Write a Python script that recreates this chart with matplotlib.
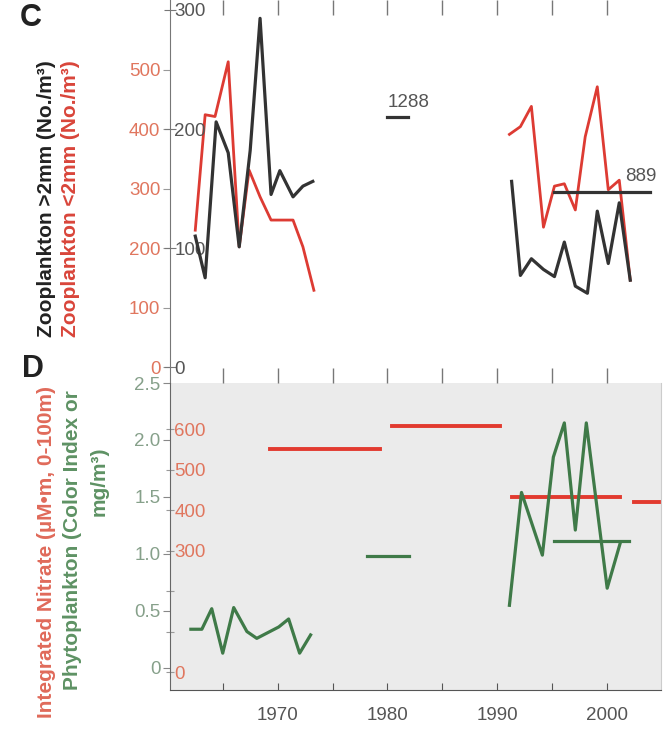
import matplotlib
matplotlib.use("Agg")
import matplotlib.pyplot as plt

plt.rcParams['font.family'] = ['Liberation Sans', 'DejaVu Sans']

### panel C - zooplankton (black = >2mm, red = <2mm)
big_yr_a = [1962.5, 1963.4, 1964.4, 1965.5, 1966.5, 1967.5, 1968.4, 1969.4, 1970.2, 1971.4, 1972.3, 1973.2]
big_a = [110, 75, 206, 180, 101, 182, 293, 145, 165, 143, 152, 156]
big_yr_b = [1991.3, 1992.1, 1993.1, 1994.2, 1995.2, 1996.1, 1997.1, 1998.2, 1999.1, 2000.1, 2001.1, 2002.1]
big_b = [156, 77, 91, 82, 76, 105, 68, 62, 131, 87, 138, 73]
small_yr_a = [1962.5, 1963.4, 1964.3, 1965.5, 1966.5, 1967.4, 1968.4, 1969.4, 1970.4, 1971.4, 1972.3, 1973.3]
small_a = [230, 424, 421, 513, 202, 331, 286, 247, 247, 247, 202, 129]
small_yr_b = [1991.1, 1992.1, 1993.1, 1994.2, 1995.2, 1996.1, 1997.1, 1998.0, 1999.1, 2000.1, 2001.1, 2002.1]
small_b = [391, 404, 438, 235, 304, 308, 264, 387, 471, 298, 314, 146]
# off-scale means, drawn as short bars with their value written
big_means = [(1980.0, 1981.9, 210, "1288"), (1995.2, 2003.9, 147, "889")]

### panel D - nitrate (red bars) and phytoplankton (green)
nitrate_bars = [(1969.3, 1979.3, 551), (1980.4, 1990.2, 608), (1991.3, 2001.2, 433), (2002.4, 2004.7, 419)]
phyto_yr_a = [1962.1, 1963.1, 1964.0, 1965.0, 1966.0, 1967.2, 1968.1, 1969.3, 1970.1, 1971.0, 1972.0, 1973.0]
phyto_a = [0.34, 0.34, 0.52, 0.13, 0.53, 0.32, 0.26, 0.32, 0.36, 0.43, 0.13, 0.29]
phyto_yr_b = [1991.1, 1992.2, 1994.1, 1995.1, 1996.1, 1997.1, 1998.1, 2000.0, 2001.2]
phyto_b = [0.55, 1.54, 0.99, 1.85, 2.15, 1.21, 2.15, 0.70, 1.10]
phyto_bars = [(1978.1, 1982.0, 0.985), (1995.2, 2002.0, 1.11)]

BLACK = '#333333'
RED = '#dd3b33'
GREEN = '#3f7a48'
RED_TXT = '#e0765e'
GREEN_TXT = '#86a08a'
GRAY_TXT = '#555555'
TS = 13.5

W, H = 664, 729
def rect(x0, y0, x1, y1):
    return [x0 / W, 1 - y1 / H, (x1 - x0) / W, (y1 - y0) / H]

fig = plt.figure(figsize=(W / 100, H / 100), dpi=100)
xlim = (1960.2, 2004.9)
xt = list(range(1965, 2001, 5))

###top panel
axC = fig.add_axes(rect(170, 0, 661, 383))
axC.set_xlim(*xlim)
axC.set_ylim(-13.4, 308.4)
for s in ['top', 'right', 'bottom']:
    axC.spines[s].set_visible(False)
axC.spines['left'].set_color('#777777')
axC.set_xticks(xt)
axC.tick_params(axis='x', top=True, bottom=True, direction='in', length=11, width=1,
                color='#777777', labelbottom=False, labeltop=False)
axC.set_yticks([0, 100, 200, 300])
axC.tick_params(axis='y', direction='inout', length=8, color='#777777', labelsize=TS,
                labelcolor=GRAY_TXT, pad=-7)
for lbl in axC.get_yticklabels():
    lbl.set_ha('left')

axC.plot(big_yr_a, big_a, color=BLACK, lw=2.3, zorder=5)
axC.plot(big_yr_b, big_b, color=BLACK, lw=2.3, zorder=5)
for x0, x1, v, txt in big_means:
    axC.plot([x0, x1], [v, v], color=BLACK, lw=2.3, zorder=5)
axC.text(1980.0, 222, "1288", fontsize=TS, color=GRAY_TXT, ha='left', va='center')
axC.text(2001.6, 160, "889", fontsize=TS, color=GRAY_TXT, ha='left', va='center')

axCr = axC.twinx()
axCr.set_ylim(-26.8, 616.8)
for s in ['top', 'right', 'bottom', 'left']:
    axCr.spines[s].set_visible(False)
axCr.yaxis.tick_left()
axCr.set_yticks([0, 100, 200, 300, 400, 500])
axCr.tick_params(axis='y', direction='out', length=5, color='#999999', labelsize=TS,
                 labelcolor=RED_TXT, pad=2)
axCr.plot(small_yr_a, small_a, color=RED, lw=2.0, zorder=4)
axCr.plot(small_yr_b, small_b, color=RED, lw=2.0, zorder=4)
axC.set_zorder(axCr.get_zorder() + 1)
axC.patch.set_visible(False)

###bottom panel
axD = fig.add_axes(rect(170, 383, 661, 690))
axD.set_xlim(*xlim)
axD.set_ylim(-0.193, 2.5)
axD.spines['top'].set_visible(False)
axD.spines['right'].set_color('#cccccc')
axD.spines['left'].set_color('#666666')
axD.spines['bottom'].set_color('#555555')
axD.set_xticks(xt, labels=[str(y) if y % 10 == 0 else '' for y in xt])
axD.tick_params(axis='x', direction='in', length=5, color='#555555', labelsize=TS,
                labelcolor=GRAY_TXT, pad=12)
axD.set_yticks([0, 0.5, 1.0, 1.5, 2.0, 2.5], labels=['0', '0.5', '1.0', '1.5', '2.0', '2.5'])
axD.tick_params(axis='y', direction='out', length=5, color='#888888', labelsize=TS,
                labelcolor=GREEN_TXT, pad=2)

axDr = axD.twinx()
axDr.set_ylim(-44.4, 713.6)
for s in ['top', 'right', 'bottom', 'left']:
    axDr.spines[s].set_visible(False)
axDr.yaxis.tick_left()
axDr.set_yticks([0, 100, 200, 300, 400, 500, 600],
                labels=['0', '', '', '300', '400', '500', '600'])
axDr.tick_params(axis='y', direction='inout', length=6, color='#999999', labelsize=TS,
                 labelcolor=RED_TXT, pad=-6)
for lbl in axDr.get_yticklabels():
    lbl.set_ha('left')
for x0, x1, v in nitrate_bars:
    axDr.plot([x0, x1], [v, v], color='#e23a2f', lw=2.8)

axD.plot(phyto_yr_a, phyto_a, color=GREEN, lw=2.3, zorder=5)
axD.plot(phyto_yr_b, phyto_b, color=GREEN, lw=2.3, zorder=5)
for x0, x1, v in phyto_bars:
    axD.plot([x0, x1], [v, v], color=GREEN, lw=2.3, zorder=5)
# green axes on top (transparent), gray background on the twin below it
axD.set_zorder(axDr.get_zorder() + 1)
axD.patch.set_visible(False)
axDr.patch.set_visible(True)
axDr.patch.set_facecolor('#ebebeb')

###axis titles and panel letters
def ftext(x, y, s, **kw):
    fig.text(x / W, 1 - y / H, s, ha='center', va='center', **kw)

LS = 15
ftext(47, 199, "Zooplankton >2mm (No./m³)", rotation=90, fontsize=LS, weight='bold', color='#222222')
ftext(71, 199, "Zooplankton <2mm (No./m³)", rotation=90, fontsize=LS, weight='bold', color='#d9453a')
ftext(47, 552, "Integrated Nitrate (µM•m, 0-100m)", rotation=90, fontsize=LS, weight='bold', color='#e06a5a')
ftext(73, 540, "Phytoplankton (Color Index or", rotation=90, fontsize=LS, weight='bold', color='#5e9264')
ftext(99, 481, "mg/m³)", rotation=90, fontsize=LS, weight='bold', color='#5e9264')
ftext(31, 18, "C", fontsize=22, weight='bold', color='#222222')
ftext(33, 369, "D", fontsize=22, weight='bold', color='#222222')

fig.savefig("out.png", dpi=100)
